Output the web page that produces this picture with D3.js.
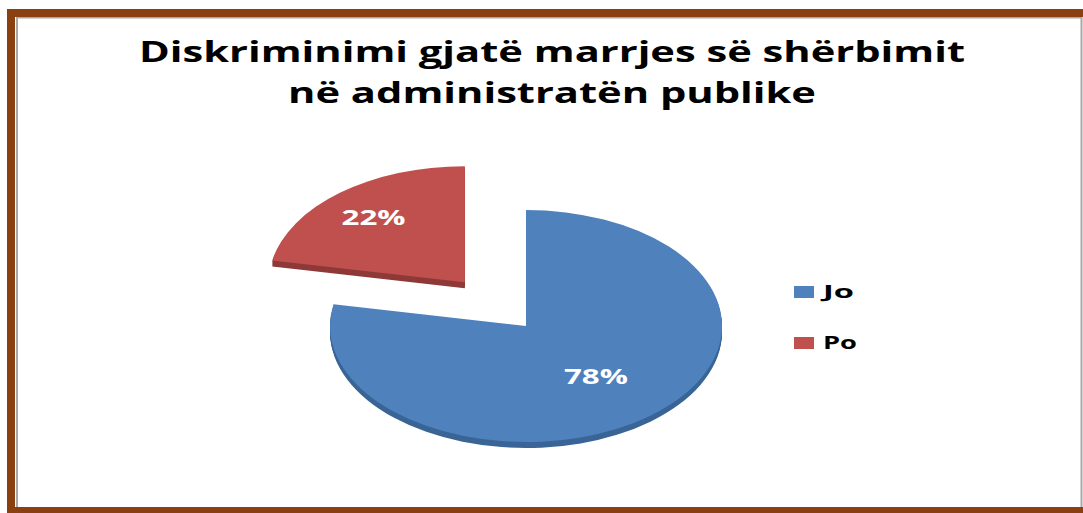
<!DOCTYPE html>
<html>
<head>
<meta charset="utf-8">
<script src="https://cdn.jsdelivr.net/npm/d3@7"></script>
<style>
  html, body { margin: 0; padding: 0; background: #fff; }
  svg { display: block; }
</style>
</head>
<body>
<svg id="chart"></svg>
<script>
// data
var categories = ["Jo", "Po"];
var values = [78, 22];
var titleLines = ["Diskriminimi gjatë marrjes së shërbimit", "në administratën publike"];

var width = 1083, height = 513;
var topColors = ["#4F81BD", "#C0504D"];
var sideColors = ["#3A6596", "#8E3A38"];

var svg = d3.select("#chart")
    .attr("width", width)
    .attr("height", height);

// frame
var brown = "#8A4010";
svg.append("rect").attr("x", 7).attr("y", 9).attr("width", width - 7).attr("height", 8).attr("fill", brown);
svg.append("rect").attr("x", 7).attr("y", 9).attr("width", 8).attr("height", height - 9).attr("fill", brown);
svg.append("rect").attr("x", 7).attr("y", 507).attr("width", width - 7).attr("height", 6).attr("fill", brown);
svg.append("rect").attr("x", 16).attr("y", 17).attr("width", 2).attr("height", 490).attr("fill", "#a8a8a8");
svg.append("rect").attr("x", 16).attr("y", 17).attr("width", width - 17).attr("height", 1.5).attr("fill", "#a8a8a8");
svg.append("rect").attr("x", 1080.5).attr("y", 17).attr("width", 2).attr("height", 490).attr("fill", "#a8a8a8");

// title
var titleW = [826, 528];
svg.selectAll(".title")
    .data(titleLines)
  .enter().append("text")
    .attr("class", "title")
    .attr("x", 552)
    .attr("y", function(d, i) { return 62 + i * 41; })
    .attr("text-anchor", "middle")
    .attr("textLength", function(d, i) { return titleW[i]; })
    .attr("lengthAdjust", "spacingAndGlyphs")
    .style("font-family", "'Open Sans', sans-serif")
    .style("font-weight", "bold")
    .style("font-size", "28px")
    .style("fill", "#000")
    .text(function(d) { return d; });

// pie (tilted)
var cx = 526, cy = 326, rx = 196, ry = 116, depth = 6;
var k = ry / rx;
var explode = [0, 0.49 * rx];
var labelR = [0.56 * rx, 0.73 * rx];

var pie = d3.pie().sort(null).value(function(d) { return d; });
var arcs = pie(values);

var arc = d3.arc().innerRadius(0).outerRadius(rx);

function offset(d, i) {
  var a = (d.startAngle + d.endAngle) / 2;
  return [Math.sin(a) * explode[i], -Math.cos(a) * explode[i]];
}

var pieG = svg.append("g")
    .attr("transform", "translate(" + cx + "," + cy + ") scale(1," + k + ")");

var slices = pieG.selectAll(".slice")
    .data(arcs)
  .enter().append("g")
    .attr("class", "slice")
    .attr("transform", function(d, i) { var o = offset(d, i); return "translate(" + o[0] + "," + o[1] + ")"; });

slices.each(function(d, i) {
  var g = d3.select(this);
  for (var s = depth; s >= 1; s--) {
    g.append("path")
        .attr("d", arc(d))
        .attr("transform", "translate(0," + (s / k) + ")")
        .style("fill", sideColors[i]);
  }
  g.append("path")
      .attr("d", arc(d))
      .style("fill", topColors[i]);
});

// percent labels
var total = d3.sum(values);
svg.selectAll(".pct")
    .data(arcs)
  .enter().append("text")
    .attr("class", "pct")
    .attr("x", function(d, i) {
      var a = (d.startAngle + d.endAngle) / 2;
      return cx + offset(d, i)[0] + Math.sin(a) * labelR[i];
    })
    .attr("y", function(d, i) {
      var a = (d.startAngle + d.endAngle) / 2;
      return cy + (offset(d, i)[1] - Math.cos(a) * labelR[i]) * k;
    })
    .attr("dy", "0.36em")
    .attr("text-anchor", "middle")
    .attr("textLength", 64)
    .attr("lengthAdjust", "spacingAndGlyphs")
    .style("font-family", "'Open Sans', sans-serif")
    .style("font-weight", "bold")
    .style("font-size", "21px")
    .style("fill", "#fff")
    .text(function(d) { return Math.round(d.value / total * 100) + "%"; });

// legend
var legend = svg.selectAll(".legend")
    .data(categories)
  .enter().append("g")
    .attr("class", "legend")
    .attr("transform", function(d, i) { return "translate(794," + (286 + i * 51) + ")"; });

legend.append("rect")
    .attr("width", 20)
    .attr("height", 12)
    .style("fill", function(d, i) { return topColors[i]; });

legend.append("text")
    .attr("x", 29)
    .attr("y", 12)
    .attr("textLength", function(d, i) { return i === 0 ? 31 : 34; })
    .attr("lengthAdjust", "spacingAndGlyphs")
    .style("font-family", "'Open Sans', sans-serif")
    .style("font-weight", "bold")
    .style("font-size", "17px")
    .style("fill", "#000")
    .text(function(d) { return d; });
</script>
</body>
</html>
